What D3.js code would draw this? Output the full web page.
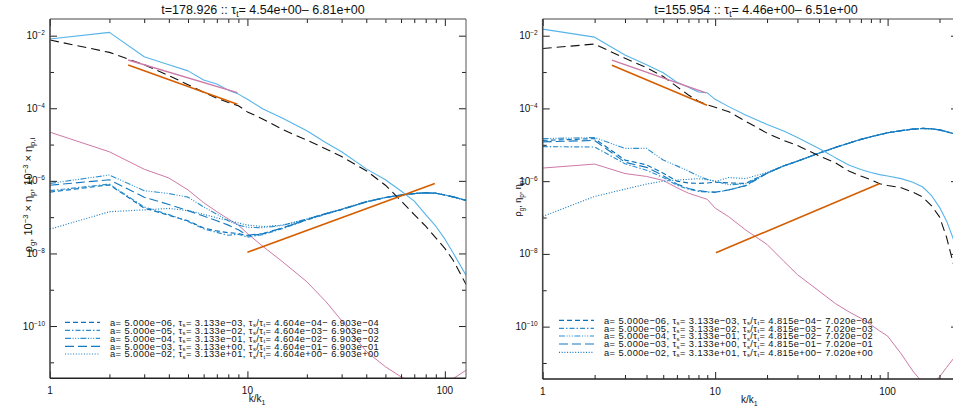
<!DOCTYPE html>
<html><head><meta charset="utf-8">
<script src="https://cdn.jsdelivr.net/npm/d3@7"></script>
<style>
body{margin:0;background:#fff}
svg{display:block}
text{font-family:"Liberation Sans",Arial,Helvetica,sans-serif;fill:#111}
</style>
</head><body>
<svg id="c" width="953" height="413"></svg>
<script>
// ---------- DATA (log10 of values) ----------
const kL = [1,2,3,4,5,6,7,8,9,10,12,15,20,25,30,40,50,60,70,80,90,100,110,128];
const lightBlueL = [-2.09,-1.91,-2.58,-2.80,-2.97,-3.22,-3.33,-3.50,-3.61,-3.75,-4.02,-4.27,-4.62,-4.95,-5.20,-5.67,-5.97,-6.28,-6.56,-6.93,-7.25,-7.60,-7.98,-8.60];
const blackL = [-2.12,-2.46,-2.80,-3.10,-3.35,-3.56,-3.72,-3.84,-3.93,-4.10,-4.30,-4.58,-4.88,-5.12,-5.33,-5.72,-6.12,-6.55,-6.93,-7.25,-7.57,-7.86,-8.18,-8.85];
const pinkL = [-4.66,-5.20,-5.68,-5.92,-6.25,-6.60,-6.85,-7.05,-7.22,-7.45,-7.81,-8.22,-8.78,-9.33,-9.85,-10.70,-11.12,-11.40,-11.60,-11.70,-11.70,-11.60,-11.45,-11.22];
// blue curves, in legend order: a=5e-6 (dashed), 5e-5 (dash-dot), 5e-4 (dash-dot-dot), 5e-3 (long dash), 5e-2 (dotted)
const blueL_a6 = [-6.31,-6.11,-6.75,-6.95,-7.10,-7.30,-7.38,-7.43,-7.45,-7.52,-7.46,-7.30,-7.07,-6.91,-6.79,-6.58,-6.46,-6.39,-6.35,-6.33,-6.34,-6.39,-6.44,-6.54];
const blueL_a5 = [-6.27,-6.09,-6.72,-6.93,-7.12,-7.32,-7.42,-7.50,-7.47,-7.55,-7.48,-7.32,-7.08,-6.92,-6.79,-6.58,-6.46,-6.39,-6.35,-6.33,-6.34,-6.39,-6.44,-6.54];
const blueL_a4 = [-6.07,-5.84,-6.27,-6.35,-6.45,-6.72,-6.92,-7.10,-7.22,-7.28,-7.29,-7.23,-7.05,-6.90,-6.78,-6.57,-6.46,-6.39,-6.35,-6.33,-6.34,-6.39,-6.44,-6.54];
const blueL_a3 = [-6.12,-5.97,-6.45,-6.65,-6.82,-6.97,-7.10,-7.22,-7.35,-7.50,-7.45,-7.30,-7.06,-6.90,-6.79,-6.58,-6.46,-6.39,-6.35,-6.33,-6.34,-6.39,-6.44,-6.54];
const blueL_a2 = [-7.33,-6.85,-6.80,-6.76,-6.82,-6.92,-7.02,-7.09,-7.16,-7.22,-7.26,-7.22,-7.06,-6.90,-6.78,-6.57,-6.46,-6.39,-6.35,-6.33,-6.34,-6.39,-6.44,-6.54];
const fitPinkL_k = [2.49, 8.9],  fitPinkL = [-2.67, -3.57];
const fitOrTopL_k = [2.49, 8.9], fitOrTopL = [-2.81, -3.89];
const fitOrBotL_k = [10, 89],    fitOrBotL = [-7.97, -6.07];

const kR = [1,2,3,4,5,6,7,8,9,10,12,15,20,25,30,40,50,60,70,80,90,100,120,140,160,180,200,220,240,256];
const lightBlueR = [-1.82,-2.04,-2.53,-2.80,-3.02,-3.28,-3.42,-3.55,-3.57,-3.75,-3.95,-4.18,-4.44,-4.62,-4.80,-5.10,-5.36,-5.56,-5.68,-5.76,-5.82,-5.86,-5.93,-6.03,-6.16,-6.40,-6.72,-7.10,-7.58,-8.00];
const blackR = [-2.35,-2.23,-2.62,-2.88,-3.12,-3.40,-3.63,-3.80,-3.90,-3.97,-4.09,-4.35,-4.68,-4.88,-5.02,-5.30,-5.50,-5.73,-5.86,-5.96,-6.07,-6.12,-6.18,-6.30,-6.44,-6.68,-6.98,-7.55,-8.25,-8.70];
const pinkR = [-5.64,-5.53,-5.79,-5.87,-5.98,-6.18,-6.33,-6.42,-6.50,-6.74,-6.98,-7.34,-7.74,-8.20,-8.57,-9.02,-9.37,-9.60,-9.77,-9.95,-10.12,-10.26,-10.75,-11.22,-11.55,-11.60,-11.38,-11.12,-10.89,-10.70];
const blueR_a6 = [-4.88,-4.83,-5.42,-5.55,-5.78,-6.00,-6.05,-6.06,-6.05,-6.03,-6.05,-6.06,-5.78,-5.58,-5.45,-5.23,-5.07,-4.95,-4.85,-4.78,-4.72,-4.67,-4.61,-4.57,-4.55,-4.56,-4.59,-4.64,-4.69,-4.73];
const blueR_a5 = [-5.05,-5.06,-5.52,-5.70,-5.90,-6.11,-6.22,-6.28,-6.30,-6.31,-6.24,-6.13,-5.78,-5.58,-5.45,-5.23,-5.07,-4.95,-4.85,-4.78,-4.72,-4.67,-4.61,-4.57,-4.55,-4.56,-4.59,-4.64,-4.69,-4.73];
const blueR_a4 = [-4.83,-4.80,-5.10,-5.10,-5.42,-5.58,-5.72,-5.86,-5.95,-6.00,-6.10,-6.07,-5.78,-5.58,-5.45,-5.23,-5.07,-4.95,-4.85,-4.78,-4.72,-4.67,-4.61,-4.57,-4.55,-4.56,-4.59,-4.64,-4.69,-4.73];
const blueR_a3 = [-4.92,-4.88,-5.48,-5.62,-5.85,-6.08,-6.20,-6.26,-6.29,-6.30,-6.24,-6.12,-5.78,-5.58,-5.45,-5.23,-5.07,-4.95,-4.85,-4.78,-4.72,-4.67,-4.61,-4.57,-4.55,-4.56,-4.59,-4.64,-4.69,-4.73];
const blueR_a2 = [-6.97,-6.42,-6.22,-6.08,-6.00,-5.97,-5.95,-5.93,-5.96,-6.01,-5.90,-5.93,-5.76,-5.58,-5.45,-5.23,-5.07,-4.95,-4.85,-4.78,-4.72,-4.67,-4.61,-4.57,-4.55,-4.56,-4.59,-4.64,-4.69,-4.73];
const fitPinkR_k = [2.52, 8.85],  fitPinkR = [-2.67, -3.57];
const fitOrTopR_k = [2.52, 8.97], fitOrTopR = [-2.81, -3.91];
const fitOrBotR_k = [10.1, 89.5], fitOrBotR = [-7.97, -6.07];

// legend texts
const aVals = ["5.000e\u221206","5.000e\u221205","5.000e\u221204","5.000e\u221203","5.000e\u221202"];
const tauS  = ["3.133e\u221203","3.133e\u221202","3.133e\u221201","3.133e+00","3.133e+01"];
const ratioLoL = ["4.604e\u221204","4.604e\u221203","4.604e\u221202","4.604e\u221201","4.604e+00"];
const ratioHiL = ["6.903e\u221204","6.903e\u221203","6.903e\u221202","6.903e\u221201","6.903e+00"];
const ratioLoR = ["4.815e\u221204","4.815e\u221203","4.815e\u221202","4.815e\u221201","4.815e+00"];
const ratioHiR = ["7.020e\u221204","7.020e\u221203","7.020e\u221202","7.020e\u221201","7.020e+00"];

const yMajor = [1e-2,1e-4,1e-6,1e-8,1e-10];
const yMajorExp = ["\u22122","\u22124","\u22126","\u22128","\u221210"];
const yMinor = [1e-3,1e-5,1e-7,1e-9,1e-11];
const xMajor = [1,10,100];
const xMajorLabels = ["1","10","100"];
const xMinorL = [2,3,4,5,6,7,8,9,20,30,40,50,60,70,80,90];
const xMinorR = [2,3,4,5,6,7,8,9,20,30,40,50,60,70,80,90,200];

// ---------- STYLES ----------
const blueStyles = [
  {dash:"5,3",               color:"#0a72b8"},
  {dash:"5,2,1.5,2",         color:"#2e8fd0"},
  {dash:"6,1.6,1,1.6,1,1.6,1,1.6", color:"#2e8fd0"},
  {dash:"9,4",               color:"#1479bf"},
  {dash:"1,1.7",             color:"#1479bf"}
];

const svg = d3.select("#c");
const yDomain = [3.63e-12, 2.88e-2];

function pairs(k, v){ return k.map((kk,i)=>[kk, Math.pow(10, v[i])]); }

function panel(p){
  const x = d3.scaleLog().domain([1, p.kmax]).range([p.x0, p.x1]);
  const y = d3.scaleLog().domain(yDomain).range([p.y1, p.y0]);
  const g = svg.append("g");
  const cid = "clip" + p.id;
  svg.append("clipPath").attr("id", cid).append("rect")
    .attr("x", p.x0).attr("y", p.y0).attr("width", p.x1 - p.x0).attr("height", p.y1 - p.y0);
  const plot = g.append("g").attr("clip-path", `url(#${cid})`);
  const line = d3.line().x(d=>x(d[0])).y(d=>y(d[1]));

  const draw = (data, color, w, dash) => plot.append("path").datum(data)
      .attr("d", line).attr("fill","none").attr("stroke", color)
      .attr("stroke-width", w).attr("stroke-dasharray", dash || null)
      .attr("stroke-linejoin","round");

  draw(pairs(p.k, p.pink), "#CC79A7", 1);
  p.blues.forEach((b,i)=>draw(pairs(p.k, b), blueStyles[i].color, 1.15, blueStyles[i].dash));
  draw(pairs(p.k, p.lightBlue), "#56B4E9", 1.1);
  draw(pairs(p.k, p.black), "#111", 1.1, "9,5");
  draw(pairs(p.fitPink[0], p.fitPink[1]), "#CC79A7", 1.4);
  draw(pairs(p.fitOrTop[0], p.fitOrTop[1]), "#D55E00", 1.6);
  draw(pairs(p.fitOrBot[0], p.fitOrBot[1]), "#D55E00", 1.6);

  // axes (ticks pointing inward)
  const ax = g.append("g").attr("class","axes");
  const tk = (axis, tx, ty) => ax.append("g").attr("transform",`translate(${tx},${ty})`)
      .call(axis).call(s=>{ s.select(".domain").remove(); s.selectAll(".tick line").attr("stroke","#222").attr("stroke-width",1); s.selectAll(".tick text").remove(); });
  tk(d3.axisBottom(x).tickValues(xMajor).tickSize(-7), 0, p.y1);
  tk(d3.axisBottom(x).tickValues(p.xMinor).tickSize(-4), 0, p.y1);
  tk(d3.axisTop(x).tickValues(xMajor).tickSize(-7), 0, p.y0);
  tk(d3.axisTop(x).tickValues(p.xMinor).tickSize(-4), 0, p.y0);
  tk(d3.axisLeft(y).tickValues(yMajor).tickSize(-7), p.x0, 0);
  tk(d3.axisLeft(y).tickValues(yMinor).tickSize(-4), p.x0, 0);
  tk(d3.axisRight(y).tickValues(yMajor).tickSize(-7), p.x1, 0);
  tk(d3.axisRight(y).tickValues(yMinor).tickSize(-4), p.x1, 0);

  // frame
  g.append("line").attr("x1",p.x0).attr("x2",p.x0).attr("y1",p.y0).attr("y2",p.y1).attr("stroke","#444").attr("stroke-width",1.6);
  g.append("line").attr("x1",p.x0).attr("x2",p.x1).attr("y1",p.y1).attr("y2",p.y1).attr("stroke","#222").attr("stroke-width",1.4);
  g.append("line").attr("x1",p.x0).attr("x2",p.x1).attr("y1",p.y0).attr("y2",p.y0).attr("stroke","#444").attr("stroke-width",1);
  g.append("line").attr("x1",p.x1).attr("x2",p.x1).attr("y1",p.y0).attr("y2",p.y1).attr("stroke","#555").attr("stroke-width",1);

  // x tick labels
  xMajor.forEach((v,i)=>g.append("text").attr("x",x(v)).attr("y",p.y1+16)
      .attr("text-anchor","middle").attr("font-size",10).text(xMajorLabels[i]));
  // y tick labels
  yMajor.forEach((v,i)=>{
    const t = g.append("text").attr("x",p.x0-5).attr("y",y(v)+3.5).attr("text-anchor","end").attr("font-size",10);
    t.append("tspan").text("10");
    t.append("tspan").attr("dy",-4).attr("font-size",6.5).text(yMajorExp[i]);
  });
  // x label
  const xl = g.append("text").attr("x",(p.x0+p.x1)/2 - 1).attr("y",p.y1+24).attr("text-anchor","middle").attr("font-size",10);
  xl.append("tspan").text("k/k");
  xl.append("tspan").attr("dy",2.5).attr("font-size",7).text("1");

  // title
  const tt = g.append("text").attr("x",p.titleX).attr("y",14).attr("text-anchor","middle").attr("font-size",12.5);
  tt.append("tspan").text(p.title[0]);
  tt.append("tspan").attr("dy",3).attr("font-size",8.5).text("t");
  tt.append("tspan").attr("dy",-3).text(p.title[1]);

  // y label
  const yl = g.append("text").attr("transform",`translate(${p.ylabX},${p.ylabY}) rotate(-90)`)
      .attr("text-anchor","middle").attr("font-size",p.ylabSize);
  p.ylab.forEach(seg=>{
    const ts = yl.append("tspan").text(seg[0]);
    if (seg[1]==="sub") ts.attr("dy",2.5).attr("font-size",p.ylabSize*0.7);
    if (seg[1]==="sup") ts.attr("dy",-4).attr("font-size",p.ylabSize*0.7);
    if (seg[1]==="up")  ts.attr("dy",-2.5);
    if (seg[1]==="down") ts.attr("dy",4);
  });

  // legend
  const lg = g.append("g");
  p.legRows.forEach((cy,i)=>{
    lg.append("line").attr("x1",p.legX0).attr("x2",p.legX1).attr("y1",cy).attr("y2",cy)
      .attr("stroke",blueStyles[i].color).attr("stroke-width",1.15).attr("stroke-dasharray",blueStyles[i].dash);
    const t = lg.append("text").attr("x",p.legTX).attr("y",cy+3.3).attr("font-size",9.3).attr("letter-spacing",0.42);
    const sub = (s)=>t.append("tspan").attr("dy",1.6).attr("font-size",6).text(s);
    const norm = (s)=>t.append("tspan").attr("dy",-1.6).text(s);
    t.append("tspan").text(`a= ${aVals[i]}, \u03c4`);
    sub("s"); norm(`= ${tauS[i]}, \u03c4`);
    sub("s"); norm("/\u03c4");
    sub("t"); norm(`= ${p.rLo[i]}\u2212 ${p.rHi[i]}`);
  });
}

panel({
  id:"L", x0:50, x1:466, y0:19, y1:378.3, kmax:128, xMinor:xMinorL,
  k:kL, lightBlue:lightBlueL, black:blackL, pink:pinkL,
  blues:[blueL_a6, blueL_a5, blueL_a4, blueL_a3, blueL_a2],
  fitPink:[fitPinkL_k, fitPinkL], fitOrTop:[fitOrTopL_k, fitOrTopL], fitOrBot:[fitOrBotL_k, fitOrBotL],
  titleX:263, title:["t=178.926 :: \u03c4", "= 4.54e+00\u2013 6.81e+00"],
  ylabX:32, ylabY:195, ylabSize:11,
  ylab:[["\u03c1"],["g","sub"],[", 10","up"],["\u22123","sup"],[" \u00d7 \u03b7","down"],["p","sub"],[", 10","up"],["\u22123","sup"],[" \u00d7 \u03b7","down"],["p,i","sub"]],
  legRows:[322.3,330.3,338.3,346.3,354], legX0:65, legX1:100, legTX:110, rLo:ratioLoL, rHi:ratioHiL
});
panel({
  id:"R", x0:542.7, x1:958, y0:19, y1:379, kmax:256, xMinor:xMinorR,
  k:kR, lightBlue:lightBlueR, black:blackR, pink:pinkR,
  blues:[blueR_a6, blueR_a5, blueR_a4, blueR_a3, blueR_a2],
  fitPink:[fitPinkR_k, fitPinkR], fitOrTop:[fitOrTopR_k, fitOrTopR], fitOrBot:[fitOrBotR_k, fitOrBotR],
  titleX:756, title:["t=155.954 :: \u03c4", "= 4.46e+00\u2013 6.51e+00"],
  ylabX:521, ylabY:197, ylabSize:9,
  ylab:[["\u03c1"],["g","sub"],[", \u03b7","up"],["p","sub"],[", \u03b7","up"],["p,i","sub"]],
  legRows:[320.3,328.3,336,344,352.3], legX0:559, legX1:594, legTX:604, rLo:ratioLoR, rHi:ratioHiR
});
</script>
</body></html>
